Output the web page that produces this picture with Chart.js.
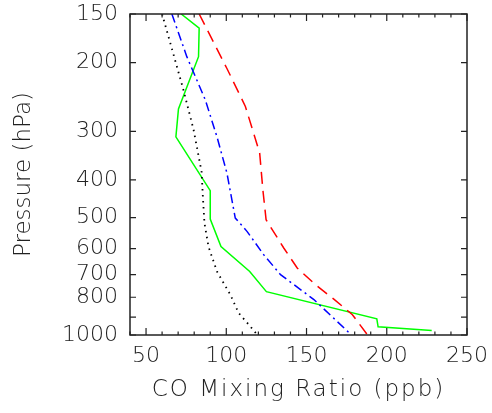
<!DOCTYPE html>
<html>
<head>
<meta charset="utf-8">
<script src="https://cdn.jsdelivr.net/npm/chart.js@4.4.1/dist/chart.umd.min.js"></script>
<style>
    html, body { margin: 0; padding: 0; background: #fff; }
</style>
</head>
<body>
<canvas id="chartCanvas" width="492" height="413"></canvas>
<script>
"use strict";

// axis ticks
const xTickValues = [50, 100, 150, 200, 250];
const xMinorValues = [40, 60, 70, 80, 90, 110, 120, 130, 140, 160, 170, 180, 190, 210, 220, 230, 240];
const yTickValues = [150, 200, 300, 400, 500, 600, 700, 800, 1000];
const yMinorValues = [900];

// black dotted profile
const blackP  = [150, 186, 235, 297, 381, 441, 516, 593, 687, 788, 878, 951, 1000];
const blackCO = [60, 66.4, 73.3, 79.6, 84.6, 85.4, 86.4, 88.9, 94.2, 102.5, 107.7, 115, 119.4];

// blue dash-dot profile
const blueP  = [150, 193, 249, 310, 384, 501, 542, 622, 700, 811, 1000];
const blueCO = [66.1, 75.4, 86.9, 94.2, 100.4, 105.6, 112.9, 123.3, 133.8, 154.6, 178];

// red dashed profile
const redP  = [150, 207, 259, 341, 424, 506, 598, 673, 743, 809, 887, 1000];
const redCO = [83.1, 100.4, 111.9, 120.8, 122.8, 124.8, 135.8, 144.2, 155.6, 167, 178.6, 188];

// green solid profile
const greenP  = [150, 163, 193, 263, 310, 426, 504, 593, 687, 774, 909, 953, 974];
const greenCO = [71.9, 83.1, 82.7, 70.2, 68.6, 90, 90, 96.7, 114.6, 125, 193.8, 194.6, 228];

function toPoints(co, p) {
    return co.map((v, i) => ({ x: v, y: p[i] }));
}

const FONT = "'DejaVu Sans', sans-serif";
const INK = "#222";

// frame with inward ticks on all four sides, like the original plot
function drawFrame(chart) {
    const ctx = chart.ctx;
    const a = chart.chartArea;
    const xs = chart.scales.x, ys = chart.scales.y;
    ctx.save();
    ctx.strokeStyle = INK;
    ctx.setLineDash([]);
    ctx.lineWidth = 1.5;
    ctx.strokeRect(a.left, a.top, a.right - a.left, a.bottom - a.top);
    ctx.lineWidth = 1.2;
    ctx.beginPath();
    xTickValues.concat(xMinorValues).forEach(v => {
        const len = xTickValues.includes(v) ? 7 : 3.5;
        const px = xs.getPixelForValue(v);
        ctx.moveTo(px, a.bottom); ctx.lineTo(px, a.bottom - len);
        ctx.moveTo(px, a.top); ctx.lineTo(px, a.top + len);
    });
    yTickValues.concat(yMinorValues).forEach(v => {
        const py = ys.getPixelForValue(v);
        ctx.moveTo(a.left, py); ctx.lineTo(a.left + 6, py);
        ctx.moveTo(a.right, py); ctx.lineTo(a.right - 6, py);
    });
    ctx.stroke();
    ctx.restore();
}

const frameTicks = {
    id: "frameTicks",
    beforeDraw(chart) {
        // the original x title is set in a wide stroke font: space the letters out
        const xs = chart.scales.x;
        if (!xs._spacedTitle) {
            const orig = xs.drawTitle;
            xs.drawTitle = function () {
                chart.ctx.save();
                chart.ctx.letterSpacing = "2px";
                orig.call(this);
                chart.ctx.restore();
            };
            xs._spacedTitle = true;
        }
    },
    afterDraw(chart) {
        drawFrame(chart);
    }
};
Chart.register(frameTicks);

const data = {
    datasets: [
        {
            label: "black",
            data: toPoints(blackCO, blackP),
            borderColor: "#000",
            borderWidth: 1.8,
            borderDash: [1.5, 4.5]
        },
        {
            label: "blue",
            data: toPoints(blueCO, blueP),
            borderColor: "#0000ff",
            borderWidth: 1.5,
            borderDash: [9, 4, 2, 4]
        },
        {
            label: "red",
            data: toPoints(redCO, redP),
            borderColor: "#ff0000",
            borderWidth: 1.5,
            borderDash: [12, 7]
        },
        {
            label: "green",
            data: toPoints(greenCO, greenP),
            borderColor: "#00ff00",
            borderWidth: 1.5
        }
    ]
};

const config = {
    type: "line",
    data: data,
    options: {
        responsive: false,
        animation: false,
        layout: { padding: { top: 14, right: 25, left: 0, bottom: 0 } },
        elements: { point: { radius: 0 }, line: { tension: 0 } },
        plugins: { legend: { display: false }, tooltip: { enabled: false } },
        scales: {
            x: {
                type: "linear",
                min: 40,
                max: 250,
                afterBuildTicks: s => { s.ticks = xTickValues.map(v => ({ value: v })); },
                afterFit: s => { s.height = 78; s.paddingLeft = 0; s.paddingRight = 0; },
                grid: { display: false, drawTicks: false },
                border: { display: false },
                ticks: { color: INK, padding: 8, maxRotation: 0, font: { family: FONT, size: 22, weight: "200" } },
                title: {
                    display: true,
                    text: "CO Mixing Ratio (ppb)",
                    color: INK,
                    padding: { top: 0, bottom: 9 },
                    font: { family: FONT, size: 23, weight: "200" }
                }
            },
            y: {
                type: "logarithmic",
                reverse: true,
                min: 150,
                max: 1000,
                afterBuildTicks: s => { s.ticks = yTickValues.map(v => ({ value: v })); },
                afterFit: s => { s.width = 130; s.paddingTop = 0; s.paddingBottom = 0; },
                grid: { display: false, drawTicks: false },
                border: { display: false },
                ticks: {
                    color: INK,
                    padding: 12,
                    callback: v => String(v),
                    font: { family: FONT, size: 22, weight: "200" }
                },
                title: {
                    display: true,
                    text: "Pressure (hPa)",
                    color: INK,
                    padding: { top: 10, bottom: 0 },
                    font: { family: FONT, size: 23, weight: "200" }
                }
            }
        }
    }
};

new Chart(document.getElementById("chartCanvas"), config);
</script>
</body>
</html>
